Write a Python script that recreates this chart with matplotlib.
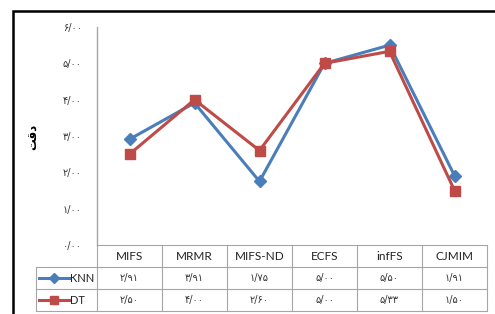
import matplotlib
matplotlib.use("Agg")
import matplotlib.pyplot as plt
from matplotlib.patches import Rectangle
from matplotlib.lines import Line2D

categories = ["MIFS", "MRMR", "MIFS-ND", "ECFS", "infFS", "CJMIM"]
knn = [2.91, 3.91, 1.75, 5.00, 5.50, 1.91]
dt = [2.50, 4.00, 2.60, 5.00, 5.33, 1.50]
knn_labels = ["۲/۹۱", "۳/۹۱", "۱/۷۵", "۵/۰۰", "۵/۵۰", "۱/۹۱"]
dt_labels = ["۲/۵۰", "۴/۰۰", "۲/۶۰", "۵/۰۰", "۵/۳۳", "۱/۵۰"]
yticks = [0, 1, 2, 3, 4, 5, 6]
ytick_labels = ["۰/۰۰", "۱/۰۰", "۲/۰۰", "۳/۰۰", "۴/۰۰", "۵/۰۰", "۶/۰۰"]
series_names = ["KNN", "DT"]
ylabel = "\uFE96\uFED7\uFEA9"  # "دقت" in presentation forms (visual order)

BLUE = "#4A7EBB"
RED = "#BE4B48"
GRID = "#A6A6A6"
LATIN = ["Lato", "DejaVu Sans"]
PERS = ["DejaVu Sans"]

W, H = 495, 314
fig = plt.figure(figsize=(W / 100, H / 100), dpi=100)

# outer frame
fig.patches.append(Rectangle((13 / W, -0.1), 1.2, 1 - 11 / H + 0.1, transform=fig.transFigure,
                             fill=False, edgecolor="black", linewidth=1.8))

ax_l, ax_r, ax_t, ax_b = 97, 487, 27, 245
ax = fig.add_axes([ax_l / W, 1 - ax_b / H, (ax_r - ax_l) / W, (ax_b - ax_t) / H])
ax.set_xlim(-0.5, len(categories) - 0.5)
ax.set_ylim(0, 6)
for s in ["top", "right", "bottom"]:
    ax.spines[s].set_visible(False)
ax.spines["left"].set_color(GRID)
ax.spines["left"].set_linewidth(1.0)
ax.set_xticks([])
ax.set_yticks(yticks)
ax.set_yticklabels(ytick_labels, fontsize=7, color="#333333", family=PERS)
ax.tick_params(axis="y", length=0, pad=11)

x = list(range(len(categories)))
ax.plot(x, knn, color=BLUE, lw=2.2, marker="D", ms=6, mfc=BLUE, mec=BLUE, clip_on=False, zorder=3)
ax.plot(x, dt, color=RED, lw=2.2, marker="s", ms=6.5, mfc=RED, mec=RED, clip_on=False, zorder=3)

fig.text(33 / W, 1 - 137 / H, ylabel, rotation=90, ha="center", va="center",
         fontsize=8.5, fontweight="bold", family=PERS)

# data table
axh = ax_b - ax_t
row_h = 22 / axh
trans = ax.get_xaxis_transform()
leg_left = -0.5 - (ax_l - 36) / 65.0
n = len(categories)
lkw = dict(color=GRID, lw=0.8, transform=trans, clip_on=False)
ax.plot([-0.5, n - 0.5], [0, 0], **lkw)
for r in range(1, 4):
    ax.plot([leg_left, n - 0.5], [-r * row_h, -r * row_h], **lkw)
ax.plot([leg_left, leg_left], [-row_h, -3 * row_h], **lkw)
for i in range(n + 1):
    ax.plot([i - 0.5, i - 0.5], [0, -3 * row_h], **lkw)

for i, c in enumerate(categories):
    ax.text(i, -0.5 * row_h, c, transform=trans, ha="center", va="center",
            fontsize=8.5, family=LATIN, color="#222222")
    ax.text(i, -1.5 * row_h, knn_labels[i], transform=trans, ha="center", va="center",
            fontsize=7, family=PERS, color="#333333")
    ax.text(i, -2.5 * row_h, dt_labels[i], transform=trans, ha="center", va="center",
            fontsize=7, family=PERS, color="#333333")

# legend keys
unit = 1 / 65.0
for r, (name, col, mk, ms) in enumerate([(series_names[0], BLUE, "D", 5), (series_names[1], RED, "s", 6)]):
    yy = -(1.5 + r) * row_h
    x0 = -0.5 - (ax_l - 39) * unit
    x1 = -0.5 - (ax_l - 69) * unit
    ax.add_line(Line2D([x0, x1], [yy, yy], color=col, lw=2.2, transform=trans, clip_on=False))
    ax.add_line(Line2D([(x0 + x1) / 2], [yy], color=col, marker=mk, ms=ms, transform=trans, clip_on=False))
    ax.text(x1 + 1.0 * unit, yy, name, transform=trans, ha="left", va="center",
            fontsize=8, family=LATIN, color="#222222")

fig.savefig("out.png", dpi=100)
